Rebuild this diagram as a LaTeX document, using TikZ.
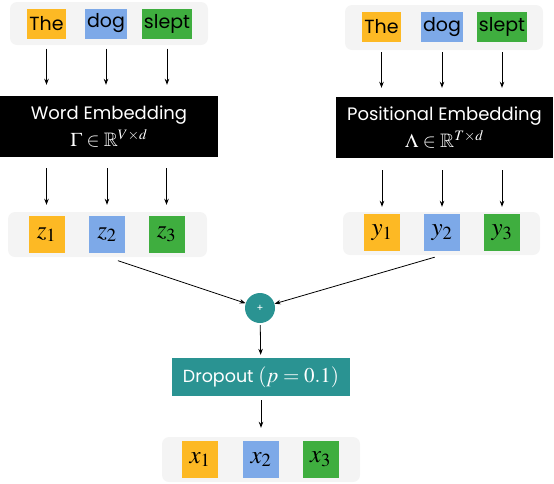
\documentclass[tikz,border=0pt]{standalone}
\usepackage{mathptmx}
\usepackage{amssymb}
\usepackage{fontspec}
\setmainfont{Poppins}
\usetikzlibrary{positioning,arrows.meta,calc}

\definecolor{tokyellow}{HTML}{FDB924}
\definecolor{tokblue}{HTML}{7DA9E8}
\definecolor{tokgreen}{HTML}{3FAE3F}
\definecolor{opteal}{HTML}{2A9392}
\definecolor{grpgray}{HTML}{F4F4F4}

\begin{document}
\begin{tikzpicture}[
  x=1pt, y=-1pt,
  >={Stealth[length=6pt,width=4.5pt]},
  grp/.style={fill=grpgray, rounded corners=7pt, inner sep=0pt},
  word/.style={inner xsep=2pt, inner ysep=0pt, minimum height=30,
               font=\fontsize{19pt}{22pt}\selectfont},
  tok/.style={inner sep=0pt, minimum width=36, minimum height=37,
              font=\fontsize{25pt}{27pt}\selectfont},
  emb/.style={fill=black, text=white, align=center, inner sep=0pt,
              minimum height=61, font=\fontsize{18pt}{27pt}\selectfont},
  plus/.style={circle, fill=opteal, text=white, inner sep=0pt,
               minimum size=30, font=\fontsize{10pt}{12pt}\selectfont},
  drop/.style={fill=opteal, text=white, inner sep=0pt, minimum width=178,
               minimum height=38, font=\fontsize{17.5pt}{22pt}\selectfont},
  flow/.style={->, line width=0.8pt, draw=black},
]
\useasboundingbox (0,0) rectangle (554,483);

% ---------------- word branch (left) ----------------
\node[grp, minimum width=198, minimum height=43] (wg) at (109,23.5) {};
\node[word, fill=tokyellow] (w1) at (46.5,23.5) {The};
\node[word, fill=tokblue]   (w2) at (106,23.5)  {dog};
\node[word, fill=tokgreen]  (w3) at (167,23.5)  {slept};

\node[emb, minimum width=218] (we) at (109,126.5)
  {Word Embedding\\ {\fontsize{19.5pt}{22pt}\selectfont$\Gamma\in\mathbb{R}^{V\times d}$}};

\node[grp, minimum width=199, minimum height=45] (zg) at (107.5,234.5) {};
\node[tok, fill=tokyellow] (z1) at (46.5,234.5) {$z_1$};
\node[tok, fill=tokblue]   (z2) at (107,234.5)  {$z_2$};
\node[tok, fill=tokgreen]  (z3) at (166.5,234.5) {$z_3$};

% ---------------- positional branch (right) ----------------
\node[grp, minimum width=198, minimum height=45] (pg) at (444,27.5) {};
\node[word, fill=tokyellow] (p1) at (381.5,27)  {The};
\node[word, fill=tokblue]   (p2) at (442,27)    {dog};
\node[word, fill=tokgreen]  (p3) at (502,27)    {slept};

\node[emb, minimum width=217] (pe) at (444.5,127.5)
  {Positional Embedding\\ {\fontsize{19.5pt}{22pt}\selectfont$\Lambda\in\mathbb{R}^{T\times d}$}};

\node[grp, minimum width=197, minimum height=43] (yg) at (441.5,233.5) {};
\node[tok, fill=tokyellow] (y1) at (382,232.5) {$y_1$};
\node[tok, fill=tokblue]   (y2) at (442,232.5) {$y_2$};
\node[tok, fill=tokgreen]  (y3) at (502,232.5) {$y_3$};

% ---------------- sum and dropout ----------------
\node[plus] (sum) at (260,308) {+};
\node[drop] (dp) at (261,377)
  {Dropout {\fontsize{21pt}{22pt}\selectfont$(p=0.1)$}};

\node[grp, minimum width=198, minimum height=45] (xg) at (261,459.5) {};
\node[tok, fill=tokyellow] (x1) at (200,459.5) {$x_1$};
\node[tok, fill=tokblue]   (x2) at (261,459.5) {$x_2$};
\node[tok, fill=tokgreen]  (x3) at (320.5,459.5) {$x_3$};

% ---------------- embedding arrows ----------------
\foreach \i in {1,2,3} {
  \draw[flow, shorten <=10pt, shorten >=11pt] (w\i.south) -- (w\i.south |- we.north);
  \draw[flow, shorten <=11pt, shorten >=11pt] (z\i.north |- we.south) -- (z\i.north);
  \draw[flow, shorten <=10pt, shorten >=9pt] (p\i.south) -- (p\i.south |- pe.north);
  \draw[flow, shorten <=12pt, shorten >=7pt] (y\i.north |- pe.south) -- (y\i.north);
}

% ---------------- merge and output ----------------
\draw[flow, shorten <=11pt] (zg.south) -- (sum);
\draw[flow, shorten <=7pt]  (yg.south) -- (sum);
\draw[flow, shorten <=2pt, shorten >=3pt] (sum) -- (dp);
\draw[flow, shorten <=4pt, shorten >=9pt] (dp) -- (xg);

\end{tikzpicture}
\end{document}
